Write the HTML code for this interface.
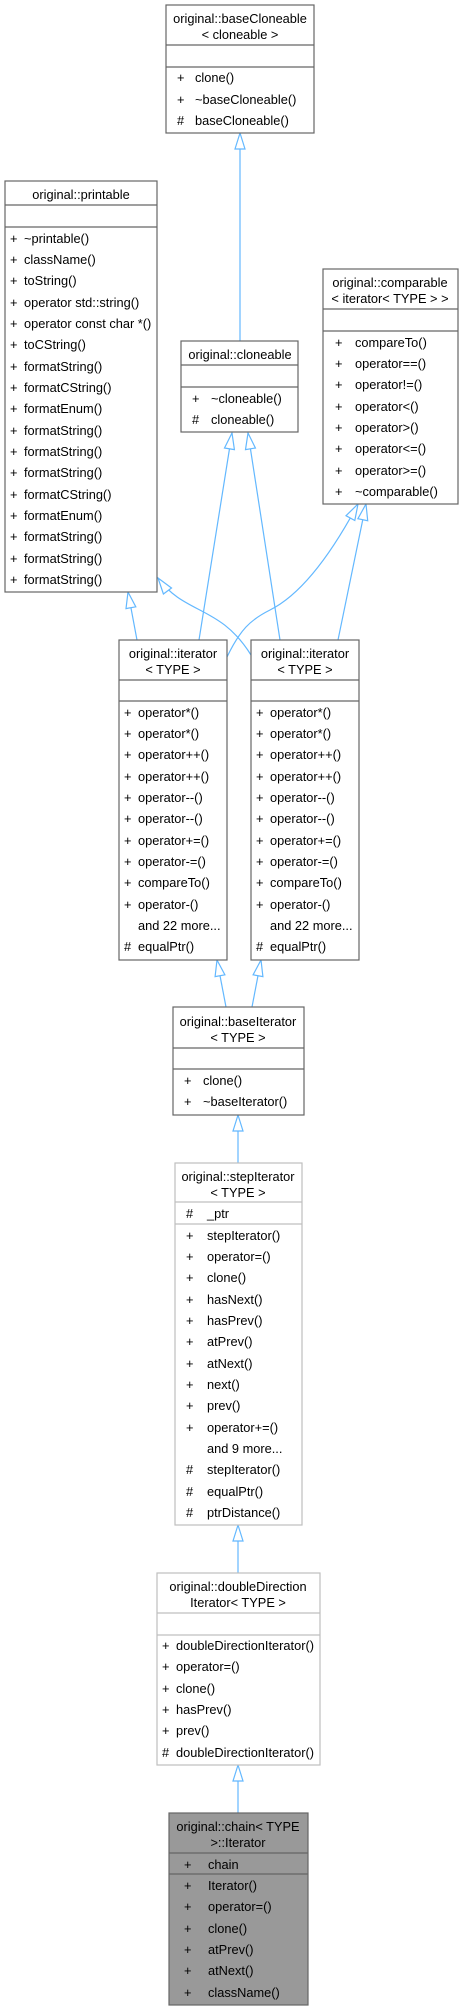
<!DOCTYPE html>
<html><head><meta charset="utf-8"><style>
html,body{margin:0;padding:0;background:#fff;}
svg{display:block;}
text{font-family:"Liberation Sans",Arial,sans-serif;font-size:12.8px;fill:#000;}
</style></head><body>
<svg width="463" height="2011" viewBox="0 0 463 2011" xmlns="http://www.w3.org/2000/svg">
<g fill="none" stroke="#63b8ff" stroke-width="1.2">
<path d="M240,133 L240,341"/>
<path d="M232,433 L199,640"/>
<path d="M248,433 L280,640"/>
<path d="M128,592 L137,640"/>
<path d="M158,578 C185,615 220,605 251,655"/>
<path d="M358,504 C320,575 290,600 270,610 C250,620 240,630 227,657"/>
<path d="M366,504 L338,640"/>
<path d="M217,960 L226,1007"/>
<path d="M261,960 L252,1007"/>
<path d="M238,1115 L238,1163"/>
<path d="M238,1525 L238,1573"/>
<path d="M238,1765 L238,1813"/>
</g>
<g fill="#fff" stroke="#63b8ff" stroke-width="1.2">
<polygon points="240,133 235,149 245,149"/>
<polygon points="232,433 234.4,449.6 224.5,448"/>
<polygon points="248,433 255.4,448 245.5,449.6"/>
<polygon points="128,592 135.8,606.8 126,608.6"/>
<polygon points="158,578 171.5,588 163.4,594"/>
<polygon points="358,504 354.8,520.5 346,515.7"/>
<polygon points="366,504 367.7,520.7 357.9,518.7"/>
<polygon points="217,960 224.9,974.8 215.1,976.6"/>
<polygon points="261,960 262.9,976.6 253.1,974.8"/>
<polygon points="238,1115 233,1131 243,1131"/>
<polygon points="238,1525 233,1541 243,1541"/>
<polygon points="238,1765 233,1781 243,1781"/>
</g>

<g stroke="#666" stroke-width="1.2" fill="#fff">
<rect x="166" y="5" width="148" height="128"/><line x1="166" y1="45" x2="314" y2="45"/><line x1="166" y1="67" x2="314" y2="67"/>
<rect x="5" y="181" width="152" height="411"/><line x1="5" y1="205" x2="157" y2="205"/><line x1="5" y1="227" x2="157" y2="227"/>
<rect x="181" y="341" width="117" height="91"/><line x1="181" y1="365" x2="298" y2="365"/><line x1="181" y1="387" x2="298" y2="387"/>
<rect x="323" y="269" width="135" height="235"/><line x1="323" y1="309" x2="458" y2="309"/><line x1="323" y1="331" x2="458" y2="331"/>
<rect x="119" y="640" width="108" height="320"/><line x1="119" y1="680" x2="227" y2="680"/><line x1="119" y1="701" x2="227" y2="701"/>
<rect x="251" y="640" width="108" height="320"/><line x1="251" y1="680" x2="359" y2="680"/><line x1="251" y1="701" x2="359" y2="701"/>
<rect x="173" y="1007" width="131" height="108"/><line x1="173" y1="1048" x2="304" y2="1048"/><line x1="173" y1="1069" x2="304" y2="1069"/>
</g>
<g stroke="#bfbfbf" stroke-width="1.2" fill="#fff">
<rect x="175" y="1163" width="127" height="362"/><line x1="175" y1="1202" x2="302" y2="1202"/><line x1="175" y1="1224" x2="302" y2="1224"/>
<rect x="157" y="1573" width="163" height="192"/><line x1="157" y1="1613" x2="320" y2="1613"/><line x1="157" y1="1635" x2="320" y2="1635"/>
</g>
<g stroke="#666" stroke-width="1.2" fill="#999">
<rect x="169" y="1813" width="139" height="192"/><line x1="169" y1="1853" x2="308" y2="1853"/><line x1="169" y1="1874" x2="308" y2="1874"/>
</g>

<g text-anchor="middle">
<text x="240" y="23">original::baseCloneable</text><text x="240" y="39">&lt; cloneable &gt;</text>
<text x="81" y="199">original::printable</text>
<text x="240" y="359">original::cloneable</text>
<text x="390" y="287">original::comparable</text><text x="390" y="303">&lt; iterator&lt; TYPE &gt; &gt;</text>
<text x="173" y="658">original::iterator</text><text x="173" y="674">&lt; TYPE &gt;</text>
<text x="305" y="658">original::iterator</text><text x="305" y="674">&lt; TYPE &gt;</text>
<text x="238" y="1026">original::baseIterator</text><text x="238" y="1042">&lt; TYPE &gt;</text>
<text x="238" y="1181">original::stepIterator</text><text x="238" y="1197">&lt; TYPE &gt;</text>
<text x="238" y="1591">original::doubleDirection</text><text x="238" y="1607">Iterator&lt; TYPE &gt;</text>
<text x="238" y="1831">original::chain&lt; TYPE</text><text x="238" y="1847">&gt;::Iterator</text>
</g>

<g><text x="177" y="82">+</text><text x="195" y="82">clone()</text>
<text x="177" y="104">+</text><text x="195" y="104">~baseCloneable()</text>
<text x="177" y="125">#</text><text x="195" y="125">baseCloneable()</text></g>

<g>
<text x="10" y="243">+</text><text x="24" y="243">~printable()</text>
<text x="10" y="264">+</text><text x="24" y="264">className()</text>
<text x="10" y="285">+</text><text x="24" y="285">toString()</text>
<text x="10" y="307">+</text><text x="24" y="307">operator std::string()</text>
<text x="10" y="328">+</text><text x="24" y="328">operator const char *()</text>
<text x="10" y="349">+</text><text x="24" y="349">toCString()</text>
<text x="10" y="371">+</text><text x="24" y="371">formatString()</text>
<text x="10" y="392">+</text><text x="24" y="392">formatCString()</text>
<text x="10" y="413">+</text><text x="24" y="413">formatEnum()</text>
<text x="10" y="435">+</text><text x="24" y="435">formatString()</text>
<text x="10" y="456">+</text><text x="24" y="456">formatString()</text>
<text x="10" y="477">+</text><text x="24" y="477">formatString()</text>
<text x="10" y="499">+</text><text x="24" y="499">formatCString()</text>
<text x="10" y="520">+</text><text x="24" y="520">formatEnum()</text>
<text x="10" y="541">+</text><text x="24" y="541">formatString()</text>
<text x="10" y="563">+</text><text x="24" y="563">formatString()</text>
<text x="10" y="584">+</text><text x="24" y="584">formatString()</text>
</g>

<g><text x="192" y="403">+</text><text x="211" y="403">~cloneable()</text>
<text x="192" y="424">#</text><text x="211" y="424">cloneable()</text></g>

<g>
<text x="335" y="347">+</text><text x="355" y="347">compareTo()</text>
<text x="335" y="368">+</text><text x="355" y="368">operator==()</text>
<text x="335" y="389">+</text><text x="355" y="389">operator!=()</text>
<text x="335" y="411">+</text><text x="355" y="411">operator&lt;()</text>
<text x="335" y="432">+</text><text x="355" y="432">operator&gt;()</text>
<text x="335" y="453">+</text><text x="355" y="453">operator&lt;=()</text>
<text x="335" y="475">+</text><text x="355" y="475">operator&gt;=()</text>
<text x="335" y="496">+</text><text x="355" y="496">~comparable()</text>
</g>

<g>
<text x="124" y="717">+</text><text x="138" y="717">operator*()</text>
<text x="124" y="738">+</text><text x="138" y="738">operator*()</text>
<text x="124" y="759">+</text><text x="138" y="759">operator++()</text>
<text x="124" y="781">+</text><text x="138" y="781">operator++()</text>
<text x="124" y="802">+</text><text x="138" y="802">operator--()</text>
<text x="124" y="823">+</text><text x="138" y="823">operator--()</text>
<text x="124" y="845">+</text><text x="138" y="845">operator+=()</text>
<text x="124" y="866">+</text><text x="138" y="866">operator-=()</text>
<text x="124" y="887">+</text><text x="138" y="887">compareTo()</text>
<text x="124" y="909">+</text><text x="138" y="909">operator-()</text>
<text x="138" y="930">and 22 more...</text>
<text x="124" y="951">#</text><text x="138" y="951">equalPtr()</text>
</g>
<g>
<text x="256" y="717">+</text><text x="270" y="717">operator*()</text>
<text x="256" y="738">+</text><text x="270" y="738">operator*()</text>
<text x="256" y="759">+</text><text x="270" y="759">operator++()</text>
<text x="256" y="781">+</text><text x="270" y="781">operator++()</text>
<text x="256" y="802">+</text><text x="270" y="802">operator--()</text>
<text x="256" y="823">+</text><text x="270" y="823">operator--()</text>
<text x="256" y="845">+</text><text x="270" y="845">operator+=()</text>
<text x="256" y="866">+</text><text x="270" y="866">operator-=()</text>
<text x="256" y="887">+</text><text x="270" y="887">compareTo()</text>
<text x="256" y="909">+</text><text x="270" y="909">operator-()</text>
<text x="270" y="930">and 22 more...</text>
<text x="256" y="951">#</text><text x="270" y="951">equalPtr()</text>
</g>

<g><text x="184" y="1085">+</text><text x="203" y="1085">clone()</text>
<text x="184" y="1106">+</text><text x="203" y="1106">~baseIterator()</text></g>

<g>
<text x="186" y="1218">#</text><text x="207" y="1218">_ptr</text>
<text x="186" y="1240">+</text><text x="207" y="1240">stepIterator()</text>
<text x="186" y="1261">+</text><text x="207" y="1261">operator=()</text>
<text x="186" y="1282">+</text><text x="207" y="1282">clone()</text>
<text x="186" y="1304">+</text><text x="207" y="1304">hasNext()</text>
<text x="186" y="1325">+</text><text x="207" y="1325">hasPrev()</text>
<text x="186" y="1346">+</text><text x="207" y="1346">atPrev()</text>
<text x="186" y="1368">+</text><text x="207" y="1368">atNext()</text>
<text x="186" y="1389">+</text><text x="207" y="1389">next()</text>
<text x="186" y="1410">+</text><text x="207" y="1410">prev()</text>
<text x="186" y="1432">+</text><text x="207" y="1432">operator+=()</text>
<text x="207" y="1453">and 9 more...</text>
<text x="186" y="1474">#</text><text x="207" y="1474">stepIterator()</text>
<text x="186" y="1496">#</text><text x="207" y="1496">equalPtr()</text>
<text x="186" y="1517">#</text><text x="207" y="1517">ptrDistance()</text>
</g>

<g>
<text x="162" y="1650">+</text><text x="176" y="1650">doubleDirectionIterator()</text>
<text x="162" y="1671">+</text><text x="176" y="1671">operator=()</text>
<text x="162" y="1693">+</text><text x="176" y="1693">clone()</text>
<text x="162" y="1714">+</text><text x="176" y="1714">hasPrev()</text>
<text x="162" y="1735">+</text><text x="176" y="1735">prev()</text>
<text x="162" y="1757">#</text><text x="176" y="1757">doubleDirectionIterator()</text>
</g>

<g>
<text x="184" y="1869">+</text><text x="208" y="1869">chain</text>
<text x="184" y="1890">+</text><text x="208" y="1890">Iterator()</text>
<text x="184" y="1911">+</text><text x="208" y="1911">operator=()</text>
<text x="184" y="1933">+</text><text x="208" y="1933">clone()</text>
<text x="184" y="1954">+</text><text x="208" y="1954">atPrev()</text>
<text x="184" y="1975">+</text><text x="208" y="1975">atNext()</text>
<text x="184" y="1997">+</text><text x="208" y="1997">className()</text>
</g>
</svg>
</body></html>
